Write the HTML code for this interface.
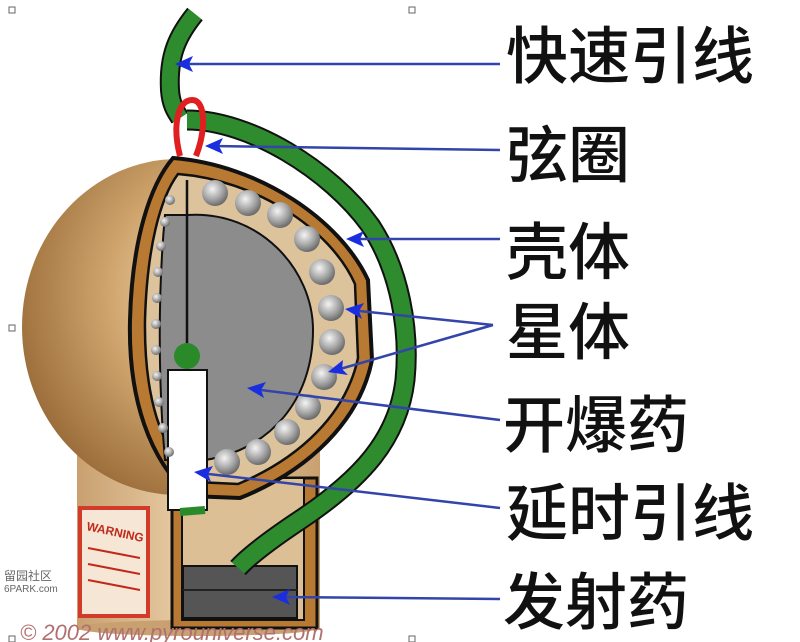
<!DOCTYPE html>
<html><head><meta charset="utf-8"><style>
html,body{margin:0;padding:0;background:#fff;}
svg{display:block}
</style></head><body>
<svg width="800" height="642" viewBox="0 0 800 642" xmlns="http://www.w3.org/2000/svg">
<defs>
<radialGradient id="sph" cx="0.62" cy="0.4" r="0.7">
<stop offset="0" stop-color="#f3dfbd"/><stop offset="0.5" stop-color="#cfa46c"/><stop offset="1" stop-color="#946634"/>
</radialGradient>
<linearGradient id="cyl" x1="0" x2="1">
<stop offset="0" stop-color="#c9a070"/><stop offset="0.5" stop-color="#ecd2ab"/><stop offset="1" stop-color="#c9a070"/>
</linearGradient>
<radialGradient id="ball" cx="0.4" cy="0.35" r="0.7">
<stop offset="0" stop-color="#f4f4f4"/><stop offset="0.6" stop-color="#a0a0a0"/><stop offset="1" stop-color="#606060"/>
</radialGradient>
</defs>
<rect width="800" height="642" fill="#fff"/>
<rect x="77" y="430" width="243" height="200" fill="url(#cyl)"/>
<ellipse cx="198" cy="628" rx="121" ry="8" fill="#c9a070"/>
<ellipse cx="178" cy="327" rx="156" ry="168" fill="url(#sph)"/>
<rect x="80" y="508" width="68" height="108" fill="#f6e6d6" stroke="#d23a2a" stroke-width="4"/>
<text x="86" y="530" font-family="Liberation Sans,sans-serif" font-size="12" font-weight="bold" fill="#c02a1a" transform="rotate(12 86 530)">WARNING</text>
<g stroke="#c02a1a" stroke-width="2"><line x1="88" y1="548" x2="140" y2="558"/><line x1="88" y1="564" x2="140" y2="574"/><line x1="88" y1="580" x2="140" y2="590"/></g>
<rect x="172" y="478" width="145" height="150" fill="#b87a33" stroke="#111" stroke-width="3"/>
<rect x="182" y="478" width="122" height="142" fill="#dcbf94" stroke="#111" stroke-width="2"/>
<rect x="183" y="566" width="114" height="52" fill="#555" stroke="#111" stroke-width="2"/>
<line x1="183" y1="590" x2="297" y2="590" stroke="#222" stroke-width="2"/>
<path d="M173,158 C260,165 340,220 368,280 L372,360 C360,420 310,470 240,498 L190,496 C150,460 128,400 130,320 C132,240 150,185 173,158Z" fill="#b87a33" stroke="#111" stroke-width="4"/>
<path d="M178,174 C255,180 330,228 355,284 L358,358 C346,414 300,458 238,484 L196,482 C160,450 144,396 145,320 C147,248 160,198 178,174Z" fill="#dcc39c" stroke="#111" stroke-width="2.5"/>
<path d="M165,215 L187,215 C260,210 313,270 313,330 C313,400 270,450 205,460 L165,460 C158,380 158,290 165,215Z" fill="#8c8c8c" stroke="#111" stroke-width="2"/>
<line x1="187" y1="180" x2="187" y2="350" stroke="#111" stroke-width="2.5"/>
<rect x="168" y="370" width="39" height="140" fill="#fff" stroke="#111" stroke-width="2"/>
<circle cx="187" cy="356" r="13" fill="#2a8a2a"/>
<path d="M180,512 L205,510" stroke="#2a8a2a" stroke-width="8"/>
<g fill="url(#ball)">
<circle cx="215" cy="193" r="13"/><circle cx="248" cy="203" r="13"/><circle cx="280" cy="215" r="13"/><circle cx="307" cy="239" r="13"/><circle cx="322" cy="272" r="13"/><circle cx="331" cy="308" r="13"/><circle cx="332" cy="342" r="13"/><circle cx="324" cy="377" r="13"/><circle cx="308" cy="407" r="13"/><circle cx="287" cy="432" r="13"/><circle cx="258" cy="452" r="13"/><circle cx="227" cy="462" r="13"/>
<circle cx="170" cy="200" r="5"/><circle cx="165" cy="222" r="5"/><circle cx="161" cy="246" r="5"/><circle cx="158" cy="272" r="5"/><circle cx="157" cy="298" r="5"/><circle cx="156" cy="324" r="5"/><circle cx="156" cy="350" r="5"/><circle cx="157" cy="376" r="5"/><circle cx="159" cy="402" r="5"/><circle cx="163" cy="428" r="5"/><circle cx="169" cy="452" r="5"/>
</g>
<path d="M195,14 C178,35 168,55 170,90 C171,105 176,112 180,118" fill="none" stroke="#111" stroke-width="20"/>
<path d="M195,14 C178,35 168,55 170,90 C171,105 176,112 180,118" fill="none" stroke="#2e8b2e" stroke-width="16"/>
<path d="M187,120 C250,120 330,170 370,225 C400,270 410,330 405,380 C398,440 360,480 300,520 C270,540 250,555 238,568" fill="none" stroke="#111" stroke-width="21"/>
<path d="M187,120 C250,120 330,170 370,225 C400,270 410,330 405,380 C398,440 360,480 300,520 C270,540 250,555 238,568" fill="none" stroke="#2e8b2e" stroke-width="17"/>
<path d="M180,156 C172,125 178,100 192,100 C206,100 206,130 196,156" fill="none" stroke="#e02020" stroke-width="6"/>
<g stroke="#3344aa" stroke-width="2.5" fill="none">
<line x1="500" y1="64" x2="180" y2="64"/>
<line x1="500" y1="150" x2="212" y2="146"/>
<line x1="500" y1="239" x2="352" y2="239"/>
<line x1="493" y1="325" x2="350" y2="310"/>
<line x1="493" y1="325" x2="333" y2="371"/>
<line x1="500" y1="420" x2="253" y2="389"/>
<line x1="500" y1="508" x2="200" y2="473"/>
<line x1="500" y1="599" x2="278" y2="597"/>
</g>
<g fill="#1a2ee0">
<polygon points="175,64 193,56 189,64 193,72"/>
<polygon points="205,146 223,138 219,146 223,154"/>
<polygon points="346,239 364,231 360,239 364,247"/>
<polygon points="345,309 364,303 359,311 362,319"/>
<polygon points="328,372 343,360 342,369 348,375"/>
<polygon points="247,388 266,382 261,390 264,398"/>
<polygon points="194,472 213,466 208,474 211,482"/>
<polygon points="272,597 290,589 286,597 290,605"/>
</g>
<g font-family="Liberation Sans,'Noto Sans CJK SC',sans-serif" font-size="62" font-weight="500" fill="#111">
<text x="506" y="78">快速引线</text>
<text x="506" y="177">弦圈</text>
<text x="506" y="274">壳体</text>
<text x="506" y="354">星体</text>
<text x="503" y="447">开爆药</text>
<text x="506" y="535">延时引线</text>
<text x="503" y="624">发射药</text>
</g>
<text x="20" y="640" font-family="Liberation Sans,sans-serif" font-size="22" font-style="italic" fill="#b07070">© 2002 www.pyrouniverse.com</text>
<text x="4" y="580" font-family="Liberation Sans,'Noto Sans CJK SC',sans-serif" font-size="12" fill="#666">留园社区</text>
<text x="4" y="592" font-family="Liberation Sans,sans-serif" font-size="10" fill="#666">6PARK.com</text>
<g fill="#fff" stroke="#666" stroke-width="1">
<rect x="9" y="7" width="6" height="6"/><rect x="409" y="7" width="6" height="6"/><rect x="9" y="325" width="6" height="6"/><rect x="9" y="636" width="6" height="6"/><rect x="409" y="636" width="6" height="6"/>
</g>
</svg>
</body></html>
